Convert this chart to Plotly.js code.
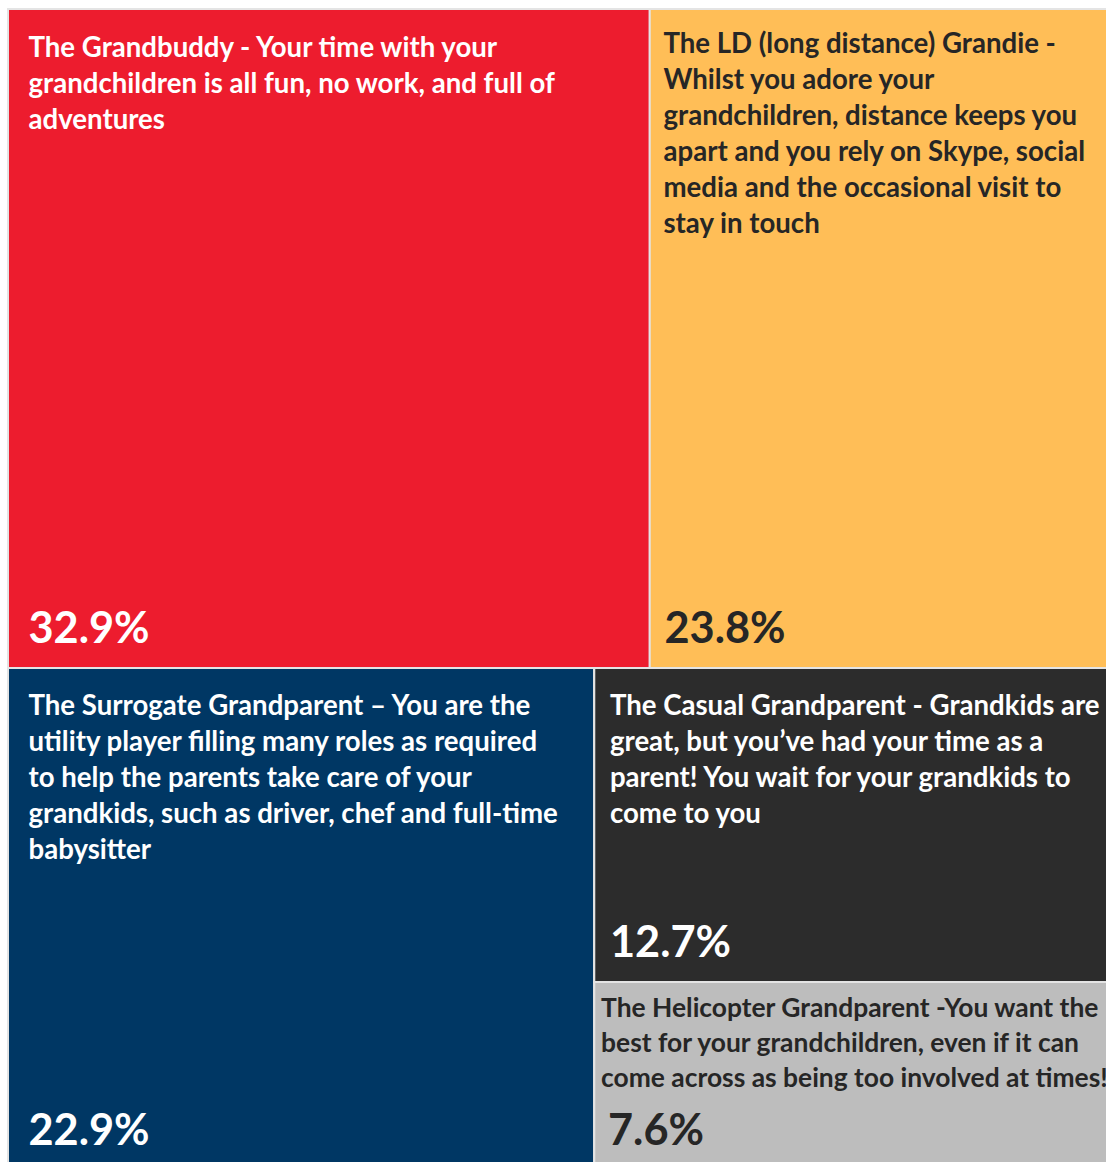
<!DOCTYPE html>
<html>
<head>
<meta charset="utf-8">
<script src="https://cdn.plot.ly/plotly-3.0.1.min.js"></script>
<style>
  html, body { margin: 0; padding: 0; overflow: hidden; background: #ffffff; }
  #chart { width: 1122px; height: 1176px; }
</style>
</head>
<body>
<div id="chart"></div>
<script>
// ---- data ----
const tileIds = ['grandbuddy', 'ld', 'surrogate', 'casual', 'helicopter'];
const tileGroups = ['top', 'top', 'bottom', 'right', 'right'];
const descriptionLines = [
  ['The Grandbuddy - Your time with your', 'grandchildren is all fun, no work, and full of', 'adventures'],
  ['The LD (long distance) Grandie -', 'Whilst you adore your', 'grandchildren, distance keeps you', 'apart and you rely on Skype, social', 'media and the occasional visit to', 'stay in touch'],
  ['The Surrogate Grandparent \u2013 You are the', 'utility player filling many roles as required', 'to help the parents take care of your', 'grandkids, such as driver, chef and full-time', 'babysitter'],
  ['The Casual Grandparent - Grandkids are', 'great, but you\u2019ve had your time as a', 'parent! You wait for your grandkids to', 'come to you'],
  ['The Helicopter Grandparent -You want the', 'best for your grandchildren, even if it can', 'come across as being too involved at times!']
];
const sharePercent = [32.9, 23.8, 22.9, 12.7, 7.6];

// hidden grouping nodes of the layout hierarchy
const groupIds = ['root', 'top', 'bottom', 'right'];
const groupParents = ['', 'root', 'root', 'bottom'];

// ---- styles ----
const tileColors = ['#ED1C2E', '#FFBE57', '#003764', '#2C2C2C', '#BDBDBD'];
const textColors = ['#FFFFFF', '#262626', '#FFFFFF', '#FFFFFF', '#262626'];
const labelBase = [27.7, 27.7, 27.7, 27.7, 26.9];
const labelGlyph = [27.6, 27.6, 27.6, 27.6, 26.4];
const leadSize = [9, 5, 8, 8, 0];
const labelInset = [21, 14, 21, 16, 7];
const pctInset = [21, 15, 21, 16, 14];
const NB = '\u00a0';
function indent(px) {
  const w = Math.max(px - 3, 1);
  return '<span style="font-size:' + (w / 0.5).toFixed(1) + 'px">' + NB + NB + '</span>';
}
// tall, narrow indent: a single wide-font space pulled in by letter-spacing
function tallIndent(px, size) {
  const w = Math.max(px - 3, 1);
  const ls = (w - 0.25 * size).toFixed(1);
  return '<span style="font-size:' + size + 'px;letter-spacing:' + ls + 'px">' + NB + '</span>';
}

const ids = groupIds.concat(tileIds);
const parents = groupParents.concat(tileGroups);
const values = groupIds.map(() => 0).concat(sharePercent);
const emptyG = groupIds.map(() => '');

const labelTexts = emptyG.concat(descriptionLines.map((lines, i) => {
  const ind = leadSize[i] ? indent(labelInset[i]) : tallIndent(labelInset[i], 32.4);
  const body = lines.map(l => ind + '<span style="font-size:' + labelGlyph[i] + 'px">' + l + '</span>').join('<br>');
  return (leadSize[i] ? '<span style="font-size:' + leadSize[i] + 'px">' + NB + '</span><br>' : '') + body;
}));
const pctTexts = emptyG.concat(sharePercent.map((v, i) =>
  indent(pctInset[i]) + '<span style="font-size:43.3px">' + v.toFixed(1) + '%</span><br><span style="font-size:6px">' + NB + '</span>'));

const common = {
  type: 'treemap',
  ids: ids,
  labels: ids,
  parents: parents,
  values: values,
  branchvalues: 'remainder',
  sort: true,
  tiling: { packing: 'dice-slice', pad: 0 },
  pathbar: { visible: false },
  textinfo: 'text',
  hoverinfo: 'none',
  domain: { x: [0, 1], y: [0, 1] },
  leaf: { opacity: 1 }
};

const fillTrace = Object.assign({}, common, {
  text: labelTexts,
  textposition: 'top left',
  marker: {
    colors: groupIds.map(() => '#E4E4E4').concat(tileColors),
    line: { color: '#E4E4E4', width: 2 },
    pad: { t: 0, l: 0, r: 0, b: 0 }
  },
  textfont: {
    family: 'Lato, sans-serif',
    weight: 'bold',
    size: groupIds.map(() => 12).concat(labelBase),
    color: groupIds.map(() => '#000').concat(textColors)
  }
});

const pctTrace = Object.assign({}, common, {
  text: pctTexts,
  textposition: 'bottom left',
  marker: {
    colors: ids.map(() => 'rgba(0,0,0,0)'),
    line: { color: 'rgba(0,0,0,0)', width: 0 },
    pad: { t: 0, l: 0, r: 0, b: 0 }
  },
  textfont: {
    family: 'Lato, sans-serif',
    weight: 'bold',
    size: ids.map(() => 15.8),
    color: groupIds.map(() => '#000').concat(textColors)
  }
});

Plotly.newPlot('chart', [fillTrace, pctTrace], {
  width: 1122,
  height: 1176,
  margin: { l: 8, r: 8, t: 9, b: 6 },
  paper_bgcolor: '#ffffff',
  showlegend: false
}, { displayModeBar: false, staticPlot: true });
</script>
</body>
</html>
